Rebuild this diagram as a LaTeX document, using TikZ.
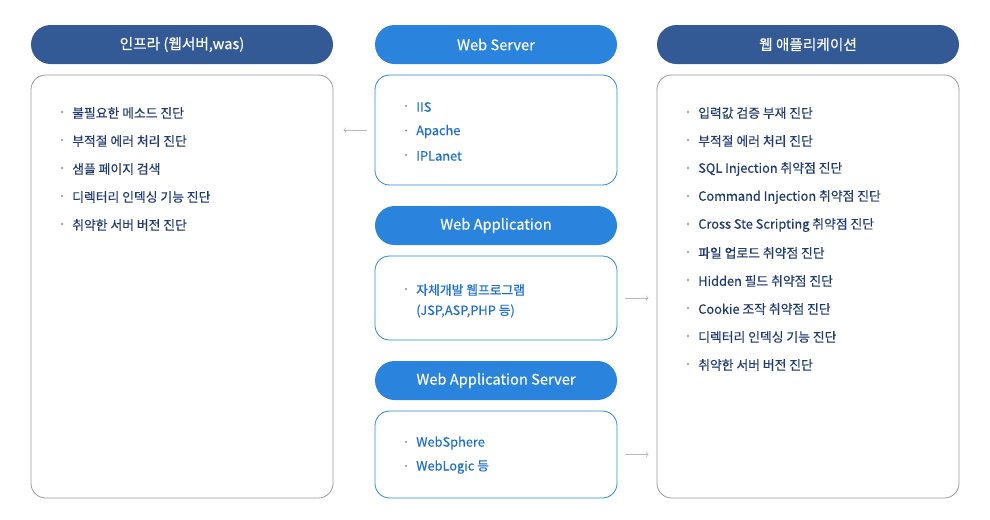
\documentclass[tikz,border=0pt]{standalone}
\usepackage{fontspec}
\usepackage{xcolor}
\usepackage{tikz}
\setmainfont{Noto Sans CJK KR}
\newfontfamily\itemfont[FakeBold=0.35]{Noto Sans CJK KR}

\definecolor{hdrdark}{HTML}{345A95}
\definecolor{hdrblue}{HTML}{2A84DD}
\definecolor{txtnavy}{HTML}{1F3A70}
\definecolor{txtblue}{HTML}{1C6FD0}
\definecolor{boxgray}{HTML}{9A9A9A}
\definecolor{arrgray}{HTML}{B8B8B8}
\definecolor{dotgray}{HTML}{8A8A8A}

\tikzset{
  hdr/.style={rounded corners=14.6pt, text=white, font=\itemfont\fontsize{11}{13}\selectfont,
    minimum height=29.25pt, inner sep=0pt},
  sidebox/.style={draw=boxgray, line width=0.6pt, rounded corners=11pt, inner sep=0pt,
    minimum width=226.5pt},
  midbox/.style={draw=hdrblue, line width=0.6pt, rounded corners=11pt, inner sep=0pt,
    minimum width=181.5pt},
  item/.style={anchor=west, inner sep=0pt, font=\itemfont\fontsize{9.6}{12}\selectfont},
  link/.style={->, draw=arrgray, line width=0.5pt}
}

\begin{document}
\begin{tikzpicture}[x=0.75pt, y=-0.75pt]
\useasboundingbox (0,0) rectangle (990,519);

% headers
\node[hdr, fill=hdrdark, minimum width=226.5pt] (infrahdr) at (182,44.5) {인프라 (웹서버,was)};
\node[hdr, fill=hdrblue, minimum width=181.5pt] (wshdr) at (496,44.5) {Web Server};
\node[hdr, fill=hdrblue, minimum width=181.5pt] (apphdr) at (496,225.5) {Web Application};
\node[hdr, fill=hdrblue, minimum width=181.5pt] (washdr) at (496,380.5) {Web Application Server};
\node[hdr, fill=hdrdark, minimum width=226.5pt] (webhdr) at (808,44.5) {웹 애플리케이션};

% boxes
\node[sidebox, minimum height=317.25pt] (infra) at (182,286.5) {};
\node[midbox, minimum height=82.5pt] (ws) at (496,130) {};
\node[midbox, minimum height=63pt] (app) at (496,298) {};
\node[midbox, minimum height=65.25pt] (was) at (496,454.5) {};
\node[sidebox, minimum height=317.25pt] (web) at (808,286.5) {};

% infra items
\foreach \t [count=\i] in {불필요한 메소드 진단, 부적절 에러 처리 진단, 샘플 페이지 검색,
    디렉터리 인덱싱 기능 진단, 취약한 서버 버전 진단} {
  \fill[dotgray] (62,{84+28*\i}) circle (1.1);
  \node[item, text=txtnavy] (infra\i) at (72,{85+28*\i}) {\t};
}

% web server items
\foreach \t/\y [count=\i] in {IIS/106, Apache/130.5, IPLanet/155} {
  \fill[dotgray] (406,\y) circle (1.1);
  \node[item, text=txtblue] (ws\i) at (416,\y+1) {\t};
}

% web application items
\fill[dotgray] (406,289) circle (1.1);
\node[item, text=txtblue] (app1) at (416,290) {자체개발 웹프로그램};
\node[item, text=txtblue] (app2) at (416,311) {(JSP,ASP,PHP 등)};

% was items
\foreach \t/\y [count=\i] in {WebSphere/442, WebLogic 등/466} {
  \fill[dotgray] (406,\y) circle (1.1);
  \node[item, text=txtblue] (was\i) at (416,\y+1) {\t};
}

% web application diagnosis items
\foreach \t [count=\i] in {입력값 검증 부재 진단, 부적절 에러 처리 진단, SQL Injection 취약점 진단,
    Command Injection 취약점 진단, Cross Ste Scripting 취약점 진단, 파일 업로드 취약점 진단,
    Hidden 필드 취약점 진단, Cookie 조작 취약점 진단, 디렉터리 인덱싱 기능 진단,
    취약한 서버 버전 진단} {
  \fill[dotgray] (688,{84+28*\i}) circle (1.1);
  \node[item, text=txtnavy] (web\i) at (698,{85+28*\i}) {\t};
}

% arrows
\draw[link, shorten <=6pt, shorten >=7.5pt] (ws.west) -- (ws.west -| infra.east);
\draw[link, shorten <=6pt, shorten >=6pt] (app.east) -- (app.east -| web.west);
\draw[link, shorten <=6pt, shorten >=6pt] (was.east) -- (was.east -| web.west);
\end{tikzpicture}
\end{document}
